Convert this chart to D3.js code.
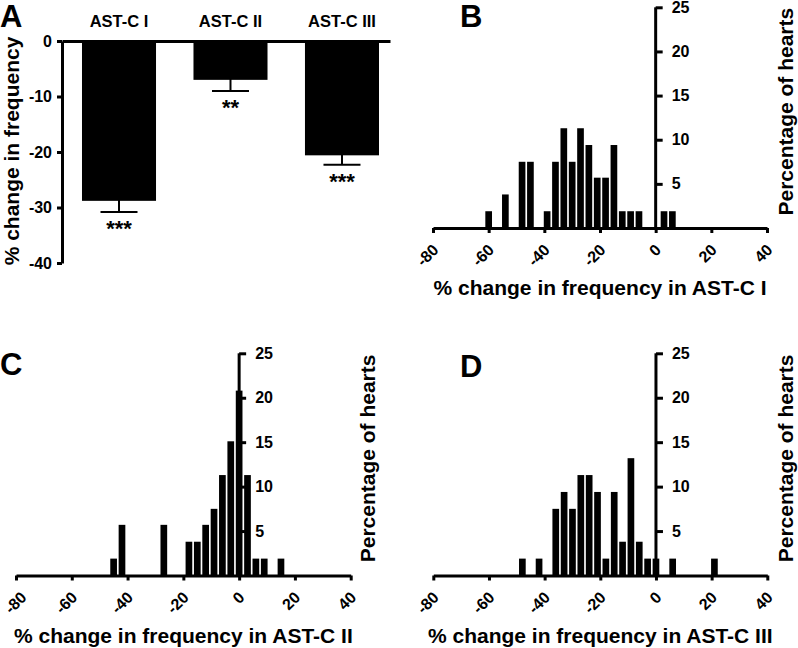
<!DOCTYPE html>
<html><head><meta charset="utf-8">
<script src="https://cdn.jsdelivr.net/npm/d3@7"></script>
<style>
body{margin:0;background:#fff;}
svg{display:block;font-family:"Liberation Sans",Arial,sans-serif;font-weight:bold;}
</style></head><body>
<svg id="c" width="798" height="648"></svg>
<script>
// ---------- data ----------
const categoriesA = ["AST-C I", "AST-C II", "AST-C III"];
const meansA = [-28.8, -7.0, -20.6];
const semA = [2.0, 2.0, 1.7];
const starsA = ["***", "**", "***"];
const yTicksA = [0, -10, -20, -30, -40];

const binsB = [-60, -54, -48, -45, -39, -36, -33, -30, -27, -24, -21, -18, -15, -12, -9, -6, 3, 6];
const pctB  = [1.9, 3.8, 7.5, 7.5, 1.9, 7.5, 11.3, 7.5, 11.3, 9.4, 5.7, 5.7, 9.4, 1.9, 1.9, 1.9, 1.9, 1.9];
const binsC = [-45, -42, -27, -18, -15, -12, -9, -6, -3, 0, 3, 6, 9, 15];
const pctC  = [1.9, 5.7, 5.7, 3.8, 3.8, 5.7, 7.5, 11.3, 15.1, 20.8, 11.3, 1.9, 1.9, 1.9];
const binsD = [-48, -42, -36, -33, -30, -27, -24, -21, -18, -15, -12, -9, -6, -3, 0, 6, 21];
const pctD  = [1.9, 1.9, 7.5, 9.4, 7.5, 11.3, 11.3, 9.4, 1.9, 9.4, 3.8, 13.2, 3.8, 1.9, 1.9, 1.9, 1.9];
const xTicksHist = [-80, -60, -40, -20, 0, 20, 40];
const yTicksHist = [5, 10, 15, 20, 25];
const histLabels = ["% change in frequency in AST-C I", "% change in frequency in AST-C II", "% change in frequency in AST-C III"];
const yLabelHist = "Percentage of hearts";
const yLabelA = "% change in frequency";
const panelLetters = ["A", "B", "C", "D"];
const binWidth = 3, barFrac = 0.8;

// ---------- drawing ----------
const svg = d3.select("#c");

function styleAxis(g, fs) {
  g.select(".domain").attr("stroke", "#000").attr("stroke-width", 3);
  g.selectAll(".tick line").attr("stroke", "#000").attr("stroke-width", 3);
  g.selectAll(".tick text").attr("fill", "#000").attr("font-size", fs).attr("font-weight", "bold")
    .attr("font-family", '"Liberation Sans",Arial,sans-serif');
}

// Panel A
const yA = d3.scaleLinear().domain([0, -40]).range([41, 263]);
const xA = d3.scaleBand().domain(categoriesA).range([62, 390])
  .paddingInner(0.336).paddingOuter(0.139).align(0.645);

const gA = svg.append("g");
gA.selectAll("rect.bar").data(categoriesA).join("rect")
  .attr("x", d => xA(d)).attr("width", xA.bandwidth())
  .attr("y", yA(0)).attr("height", (d, i) => yA(meansA[i]) - yA(0))
  .attr("fill", "#000");
categoriesA.forEach((c, i) => {
  const cx = xA(c) + xA.bandwidth() / 2;
  const yLow = yA(meansA[i] - semA[i]);
  gA.append("line").attr("x1", cx).attr("x2", cx).attr("y1", yA(meansA[i]) - 1).attr("y2", yLow)
    .attr("stroke", "#000").attr("stroke-width", 2);
  gA.append("line").attr("x1", cx - 18.5).attr("x2", cx + 18.5).attr("y1", yLow).attr("y2", yLow)
    .attr("stroke", "#000").attr("stroke-width", 2);
  gA.append("text").attr("x", cx).attr("y", yLow + 24).attr("text-anchor", "middle")
    .attr("font-size", 22).text(starsA[i]);
});
const axTop = gA.append("g").attr("transform", `translate(0,${yA(0)})`)
  .call(d3.axisTop(xA).tickSize(0).tickSizeOuter(0).tickPadding(14.5));
styleAxis(axTop, 16.5);
const axLeftA = gA.append("g").attr("transform", "translate(62,0)")
  .call(d3.axisLeft(yA).tickValues(yTicksA).tickSize(5).tickSizeOuter(0).tickPadding(5));
styleAxis(axLeftA, 16);
axLeftA.selectAll(".tick text").text(d => String(d));
gA.append("text").attr("transform", "translate(19,151) rotate(-90)").attr("text-anchor", "middle")
  .attr("font-size", 21).text(yLabelA);
svg.append("text").attr("x", 0).attr("y", 27).attr("font-size", 31).text(panelLetters[0]);

// Histogram panels
function drawHist(o) {
  const xs = d3.scaleLinear().domain([-80, 40]).range([o.x0, o.x1]);
  const ys = d3.scaleLinear().domain([0, 25]).range([o.yb, o.yt]);
  const g = svg.append("g");
  const ax = g.append("g").attr("transform", `translate(0,${o.yb})`)
    .call(d3.axisBottom(xs).tickValues(xTicksHist).tickSize(5).tickSizeOuter(0).tickFormat(""));
  styleAxis(ax, 16);
  ax.selectAll(".tick").append("text")
    .attr("transform", d => `translate(${6 + Math.max(0, 21 - xs(d))},23) rotate(-45)`)
    .attr("text-anchor", "end").attr("fill", "#000").attr("font-size", 16)
    .text(d => String(d));
  const ay = g.append("g").attr("transform", `translate(${xs(0)},0)`)
    .call(d3.axisRight(ys).tickValues(yTicksHist).tickSize(7).tickSizeOuter(0).tickPadding(9));
  styleAxis(ay, 16);
  ay.select(".domain").attr("d", `M0,${o.yt}V${o.yb}`);
  g.selectAll("rect.h").data(o.bins).join("rect")
    .attr("x", d => xs(d - binWidth * barFrac / 2))
    .attr("width", d => xs(d + binWidth * barFrac / 2) - xs(d - binWidth * barFrac / 2))
    .attr("y", (d, i) => ys(o.pct[i]))
    .attr("height", (d, i) => ys(0) - ys(o.pct[i]))
    .attr("fill", "#000");
  g.append("text").attr("x", (o.x0 + o.x1) / 2).attr("y", o.yb + 67).attr("text-anchor", "middle")
    .attr("font-size", 21).text(o.label);
  g.append("text").attr("transform", `translate(${o.ylx},${(o.yt + o.yb) / 2 - 6}) rotate(-90)`)
    .attr("text-anchor", "middle").attr("font-size", 21).text(yLabelHist);
  g.append("text").attr("x", o.lx).attr("y", o.ly).attr("font-size", 31).text(o.letter);
}

drawHist({x0: 433, x1: 767, yb: 228, yt: 7.3, bins: binsB, pct: pctB, label: histLabels[0],
  ylx: 793, lx: 460, ly: 27, letter: panelLetters[1]});
drawHist({x0: 16, x1: 350.7, yb: 575.5, yt: 353.3, bins: binsC, pct: pctC, label: histLabels[1],
  ylx: 375, lx: 0, ly: 375, letter: panelLetters[2]});
drawHist({x0: 433.3, x1: 767.3, yb: 575.5, yt: 353.3, bins: binsD, pct: pctD, label: histLabels[2],
  ylx: 793, lx: 460, ly: 377, letter: panelLetters[3]});
</script>
</body></html>
